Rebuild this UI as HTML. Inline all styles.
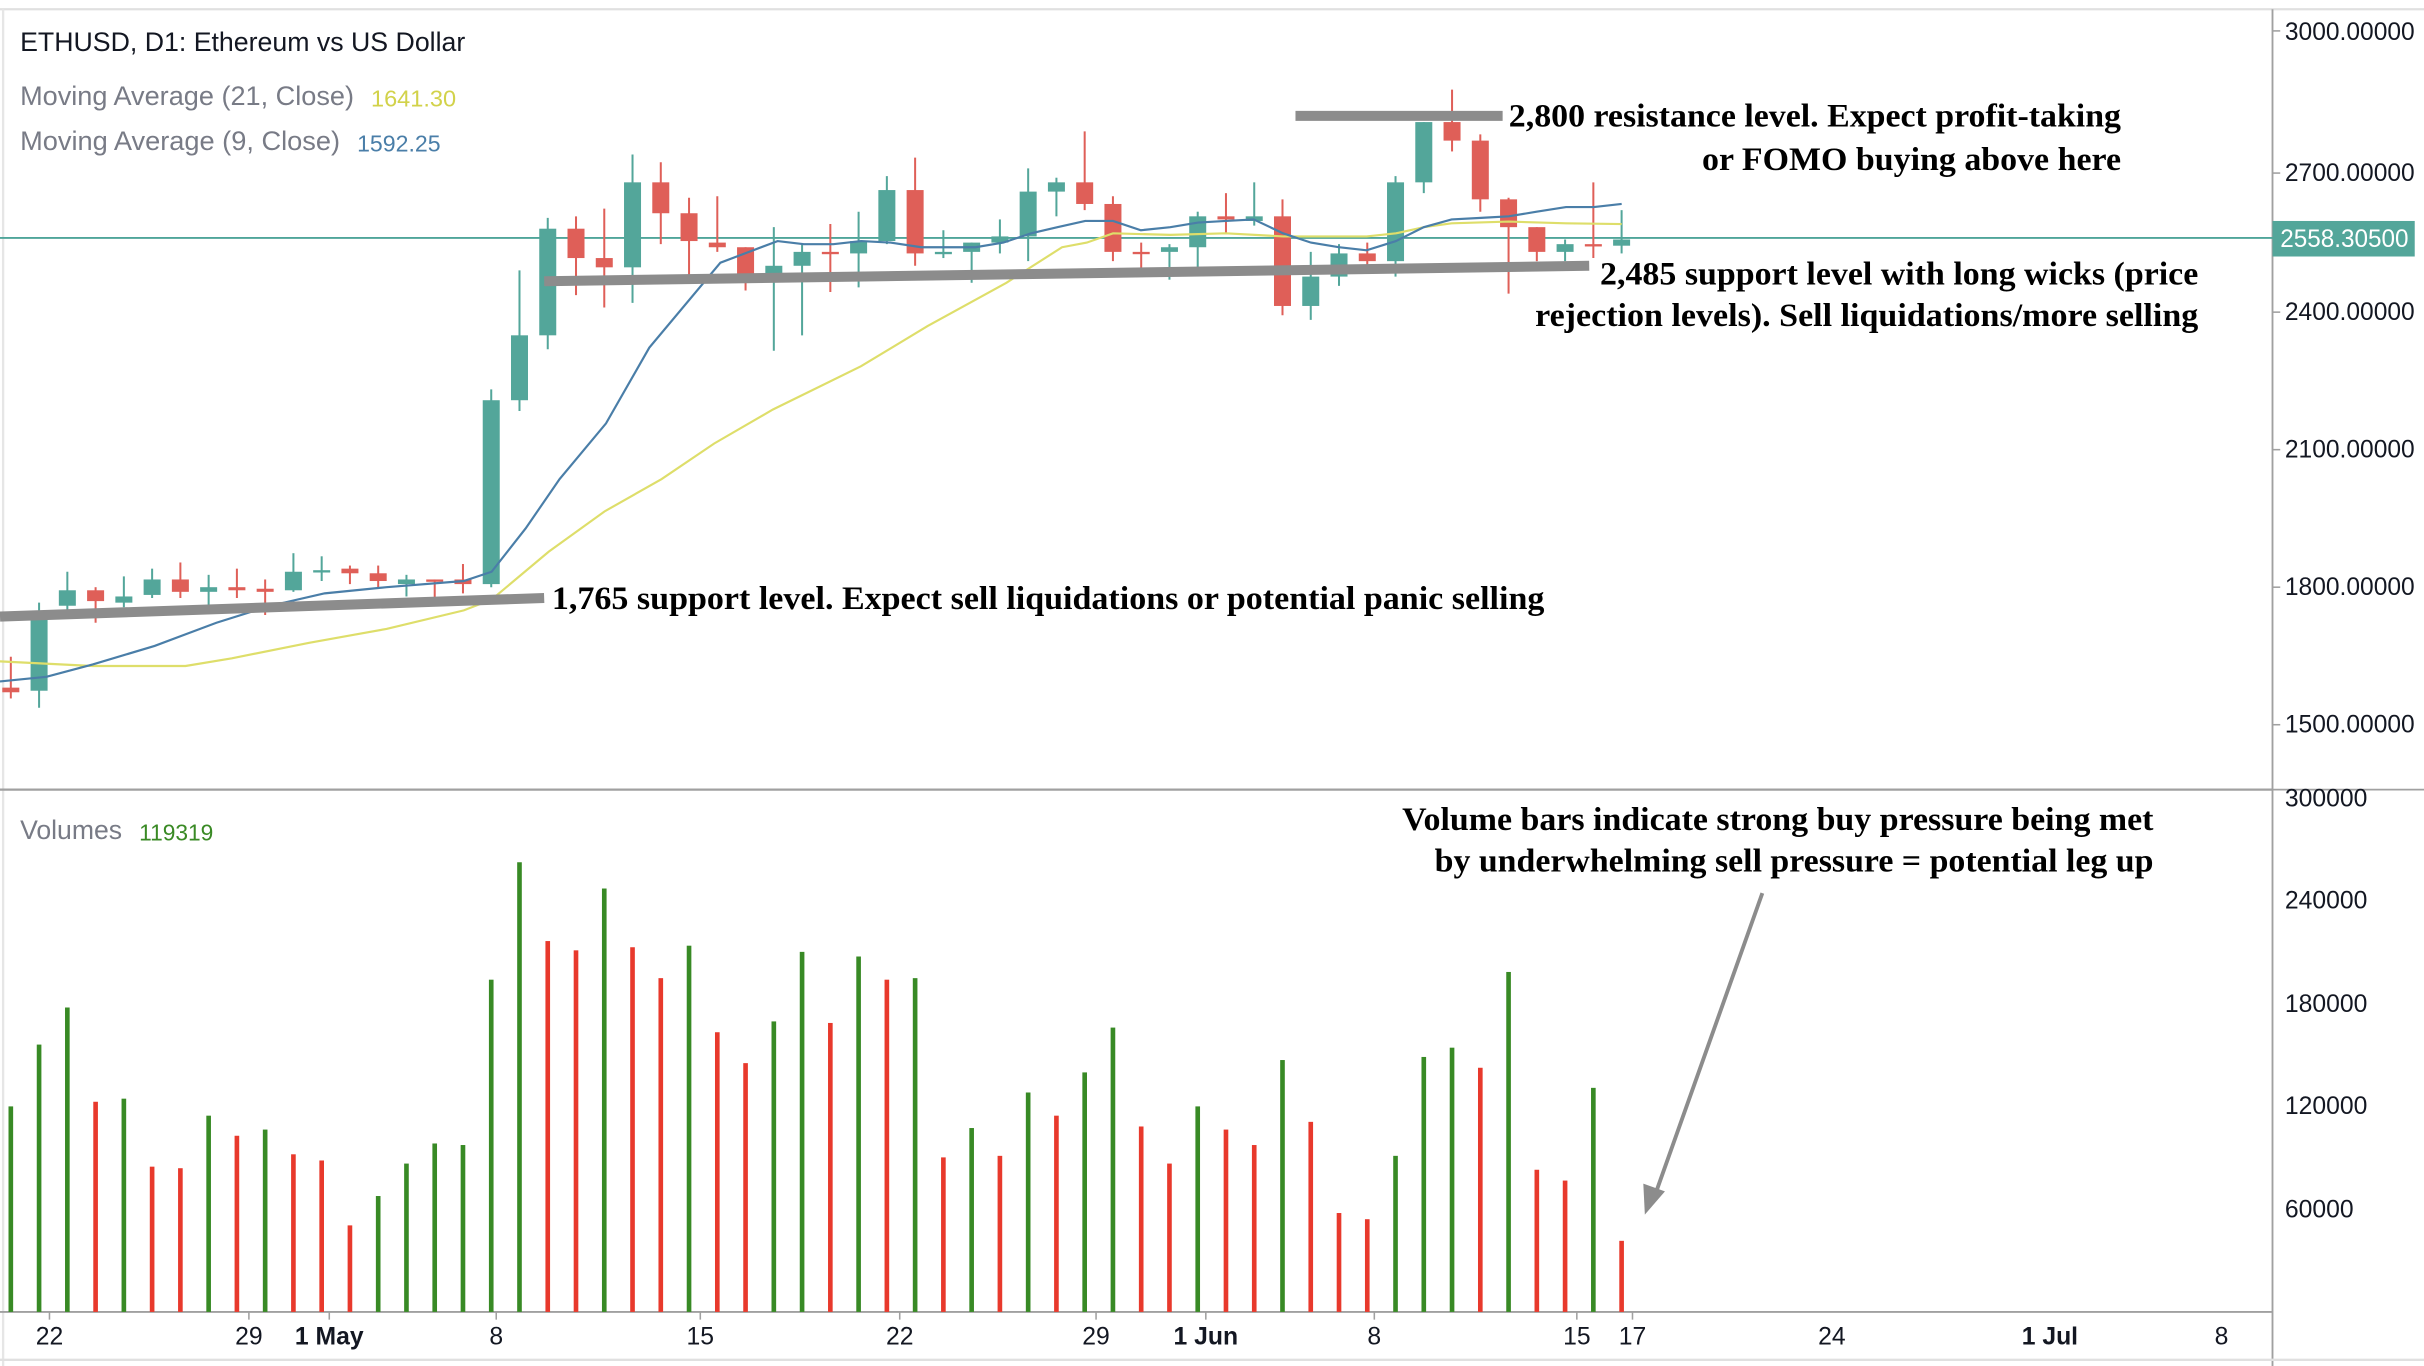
<!DOCTYPE html>
<html><head><meta charset="utf-8"><style>
html,body{margin:0;padding:0;background:#fff;}
svg{display:block;}
.ax{font-family:"Liberation Sans",sans-serif;font-size:16px;fill:#131722;}
.ann{font-family:"Liberation Serif",serif;font-weight:bold;font-size:21px;fill:#000;}
</style></head><body>
<svg id="s" width="2424" height="1366" viewBox="0 0 1568 884" preserveAspectRatio="none" xmlns="http://www.w3.org/2000/svg">
<rect width="1568" height="884" fill="#fff"/>
<line x1="0" y1="6" x2="1568" y2="6" stroke="#e0e0e0" stroke-width="1.5"/>
<line x1="2" y1="6" x2="2" y2="884" stroke="#e6e6e6" stroke-width="1.5"/>
<line x1="1470" y1="6" x2="1470" y2="884" stroke="#a0a0a0" stroke-width="1.2"/>
<line x1="0" y1="511" x2="1470" y2="511" stroke="#a0a0a0" stroke-width="1.5"/>
<line x1="1470" y1="511" x2="1568" y2="511" stroke="#a0a0a0" stroke-width="1.2"/>
<line x1="0" y1="849" x2="1470" y2="849" stroke="#a0a0a0" stroke-width="1.2"/>
<line x1="0" y1="880" x2="1568" y2="880" stroke="#e0e0e0" stroke-width="1.5"/>
<line x1="0" y1="154" x2="1470" y2="154" stroke="#4fa59a" stroke-width="1.2"/>
<g id="vol"></g>
<g id="cand"></g>
<g id="ma"></g>
<g stroke="#8c8c8c" stroke-width="6.5" stroke-linecap="butt">
<line x1="0" y1="399" x2="352" y2="387"/>
<line x1="352" y1="182" x2="1028" y2="172"/>
<line x1="838" y1="75" x2="972" y2="75"/>
</g>
<text x="13" y="33" font-family="Liberation Sans,sans-serif" font-size="17.3" fill="#131722" textLength="288" lengthAdjust="spacingAndGlyphs">ETHUSD, D1: Ethereum vs US Dollar</text>
<text x="13" y="68" font-family="Liberation Sans,sans-serif" font-size="17.3" fill="#787b86" textLength="216" lengthAdjust="spacingAndGlyphs">Moving Average (21, Close)</text>
<text x="240" y="69" font-family="Liberation Sans,sans-serif" font-size="15" fill="#d2d24a" textLength="55" lengthAdjust="spacingAndGlyphs">1641.30</text>
<text x="13" y="97" font-family="Liberation Sans,sans-serif" font-size="17.3" fill="#787b86" textLength="207" lengthAdjust="spacingAndGlyphs">Moving Average (9, Close)</text>
<text x="231" y="98" font-family="Liberation Sans,sans-serif" font-size="15" fill="#4a7ea8" textLength="54" lengthAdjust="spacingAndGlyphs">1592.25</text>
<text x="13" y="543" font-family="Liberation Sans,sans-serif" font-size="17.3" fill="#787b86" textLength="66" lengthAdjust="spacingAndGlyphs">Volumes</text>
<text x="90" y="544" font-family="Liberation Sans,sans-serif" font-size="15" fill="#3a8a25" textLength="48" lengthAdjust="spacingAndGlyphs">119319</text>
<g class="ax">
<text x="1478" y="26" textLength="84" lengthAdjust="spacingAndGlyphs">3000.00000</text><text x="1478" y="117" textLength="84" lengthAdjust="spacingAndGlyphs">2700.00000</text>
<text x="1478" y="207" textLength="84" lengthAdjust="spacingAndGlyphs">2400.00000</text><text x="1478" y="296" textLength="84" lengthAdjust="spacingAndGlyphs">2100.00000</text>
<text x="1478" y="385" textLength="84" lengthAdjust="spacingAndGlyphs">1800.00000</text><text x="1478" y="474" textLength="84" lengthAdjust="spacingAndGlyphs">1500.00000</text>
<text x="1478" y="522">300000</text><text x="1478" y="588">240000</text>
<text x="1478" y="655">180000</text><text x="1478" y="721">120000</text>
<text x="1478" y="788">60000</text>
</g>
<g stroke="#a0a0a0" stroke-width="1"><line x1="1470" y1="20" x2="1475" y2="20"/><line x1="1470" y1="112" x2="1475" y2="112"/><line x1="1470" y1="202" x2="1475" y2="202"/><line x1="1470" y1="291" x2="1475" y2="291"/><line x1="1470" y1="380" x2="1475" y2="380"/><line x1="1470" y1="469" x2="1475" y2="469"/></g>
<rect x="1470" y="143" width="92" height="23" fill="#53a69a"/>
<text x="1475" y="160" class="ax" style="fill:#fff" textLength="83" lengthAdjust="spacingAndGlyphs">2558.30500</text>
<g class="ax" text-anchor="middle">
<text x="32" y="870">22</text><text x="161" y="870">29</text><text x="213" y="870" font-weight="bold">1 May</text>
<text x="321" y="870">8</text><text x="453" y="870">15</text><text x="582" y="870">22</text>
<text x="709" y="870">29</text><text x="780" y="870" font-weight="bold">1 Jun</text><text x="889" y="870">8</text>
<text x="1020" y="870">15</text><text x="1056" y="870">17</text><text x="1185" y="870">24</text>
<text x="1326" y="870" font-weight="bold">1 Jul</text><text x="1437" y="870">8</text>
</g>
<g stroke="#a0a0a0" stroke-width="1"><line x1="32" y1="849" x2="32" y2="854"/><line x1="161" y1="849" x2="161" y2="854"/><line x1="213" y1="849" x2="213" y2="854"/><line x1="321" y1="849" x2="321" y2="854"/><line x1="453" y1="849" x2="453" y2="854"/><line x1="582" y1="849" x2="582" y2="854"/><line x1="709" y1="849" x2="709" y2="854"/><line x1="780" y1="849" x2="780" y2="854"/><line x1="889" y1="849" x2="889" y2="854"/><line x1="1020" y1="849" x2="1020" y2="854"/><line x1="1056" y1="849" x2="1056" y2="854"/></g>
<text class="ann" x="357" y="394" textLength="642" lengthAdjust="spacingAndGlyphs">1,765 support level. Expect sell liquidations or potential panic selling</text>
<text class="ann" x="976" y="82" textLength="396" lengthAdjust="spacingAndGlyphs">2,800 resistance level. Expect profit-taking</text>
<text class="ann" x="1101" y="110" textLength="271" lengthAdjust="spacingAndGlyphs">or FOMO buying above here</text>
<text class="ann" x="1035" y="184" textLength="387" lengthAdjust="spacingAndGlyphs">2,485 support level with long wicks (price</text>
<text class="ann" x="993" y="211" textLength="429" lengthAdjust="spacingAndGlyphs">rejection levels). Sell liquidations/more selling</text>
<text class="ann" x="907" y="537" textLength="486" lengthAdjust="spacingAndGlyphs">Volume bars indicate strong buy pressure being met</text>
<text class="ann" x="928" y="564" textLength="465" lengthAdjust="spacingAndGlyphs">by underwhelming sell pressure = potential leg up</text>
<line x1="1140" y1="578" x2="1070" y2="775" stroke="#8c8c8c" stroke-width="2.5"/>
<polygon points="1064,786 1063,766 1077,771" fill="#8c8c8c"/>
</svg>
<script>
var NS="http://www.w3.org/2000/svg";
function el(p,t,a){var e=document.createElementNS(NS,t);for(var k in a)e.setAttribute(k,a[k]);p.appendChild(e);return e;}
var X=function(i){return 7+18.28*i;};
var C=[[0,445,448,425,452],[1,397,447,390,458],[1,382,392,370,395],[0,382,389,380,403],[1,386,390,373,393],[1,375,385,368,387],[0,375,383,364,387],[1,380,383,372,392],[0,380,382,368,387],[0,381,383,375,398],[1,370,382,358,383],[1,369,370,360,376],[0,368,371,366,378],[0,371,376,366,380],[1,375,378,372,386],[0,375,376,375,392],[0,375,378,365,384],
[1,259,378,252,380],[1,217,259,175,266],[1,148,217,141,226],[0,148,167,140,191],[0,167,173,135,199],[1,118,173,100,196],[0,118,138,105,158],[0,138,156,128,179],[0,157,160,127,163],[0,160,178,160,188],[1,172,178,147,227],[1,163,172,158,217],[0,163,164,145,189],[1,156,164,137,186],[1,123,156,114,158],[0,123,164,102,172],[1,163,164,149,167],[1,157,163,157,183],[1,153,157,142,164],[1,124,153,109,169],
[1,118,124,115,140],[0,118,132,85,136],[0,132,163,127,169],[0,163,164,157,174],[1,160,163,158,181],[1,140,160,137,174],[0,140,142,125,151],[1,140,143,118,146],[0,140,198,129,204],[1,179,198,163,207],[1,164,179,158,185],[0,164,169,157,172],[1,118,169,114,179],[1,79,118,79,125],[0,79,91,58,98],[0,91,129,87,137],[0,129,147,128,190],[0,147,163,147,169],[1,158,163,155,169],[0,158,159,118,167],[1,155,159,136,164]];
var cg=document.getElementById('cand');
C.forEach(function(c,i){var x=X(i),col=c[0]?'#53a69a':'#df5f58';
el(cg,'line',{x1:x,x2:x,y1:c[3],y2:c[4],stroke:col,'stroke-width':1.3});
el(cg,'rect',{x:x-5.5,y:c[1],width:11,height:Math.max(1.5,c[2]-c[1]),fill:col});});
var V=[[716,1],[676,1],[652,1],[713,0],[711,1],[755,0],[756,0],[722,1],[735,0],[731,1],[747,0],[751,0],[793,0],[774,1],[753,1],[740,1],[741,1],[634,1],[558,1],[609,0],[615,0],[575,1],[613,0],[633,0],[612,1],[668,0],[688,0],[661,1],[616,1],[662,0],[619,1],[634,0],[633,1],[749,0],[730,1],[748,0],[707,1],[722,0],[694,1],[665,1],[729,0],[753,0],[716,1],[731,0],[741,0],[686,1],[726,0],[785,0],[789,0],[748,1],[684,1],[678,1],[691,0],[629,1],[757,0],[764,0],[704,1],[803,0]];
var vg=document.getElementById('vol');
V.forEach(function(v,i){el(vg,'rect',{x:X(i)-1.5,y:v[0],width:3,height:849-v[0],fill:v[1]?'#388a25':'#e8392c'});});
var B=[[0,441],[30,438],[60,430],[100,418],[140,403],[175,392],[210,384],[250,380],[300,376],[318,370],[340,342],[362,310],[392,274],[420,225],[466,170],[503,156],[520,158],[539,158],[557,156],[576,157],[596,160],[631,160],[649,157],[667,151],[684,147],[702,143],[720,143],[738,149],[757,147],[775,144],[793,143],[811,142],[830,151],[848,157],[866,160],[884,162],[903,156],[921,147],[939,142],[958,141],[976,140],[994,137],[1013,134],[1031,134],[1049,132]];
var Y=[[0,428],[60,431],[120,431],[150,426],[200,416],[250,407],[300,395],[318,388],[355,357],[391,331],[428,310],[462,287],[500,265],[557,237],[600,211],[651,183],[687,160],[703,157],[720,151],[757,152],[793,151],[830,153],[866,153],[884,153],[903,151],[921,147],[939,144.5],[976,143.4],[1013,144.5],[1049,145]];
var mg=document.getElementById('ma');
el(mg,'polyline',{points:Y.map(function(p){return p.join(',')}).join(' '),fill:'none',stroke:'#dede6a','stroke-width':1.4});
el(mg,'polyline',{points:B.map(function(p){return p.join(',')}).join(' '),fill:'none',stroke:'#4a7ea8','stroke-width':1.4});
</script>
</body></html>
